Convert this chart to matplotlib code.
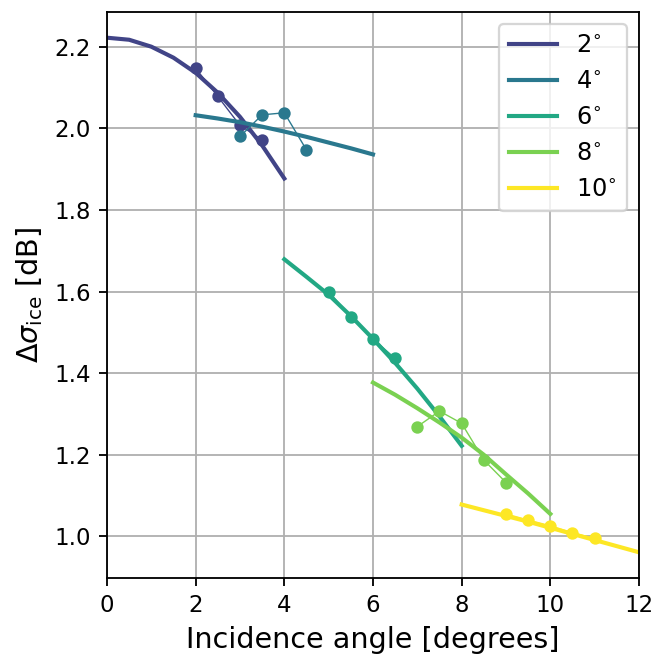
import numpy as np
import matplotlib
matplotlib.use("Agg")
import matplotlib.pyplot as plt

# incidence angle groups
labels = ["2", "4", "6", "8", "10"]

# measured points (incidence angle, delta sigma)
pts_x = [
    [2.0, 2.5, 3.0, 3.5],
    [3.0, 3.5, 4.0, 4.5],
    [5.0, 5.5, 6.0, 6.5],
    [7.0, 7.5, 8.0, 8.5, 9.0],
    [9.0, 9.5, 10.0, 10.5, 11.0],
]
pts_y = [
    [2.147, 2.078, 2.007, 1.972],
    [1.980, 2.033, 2.038, 1.947],
    [1.600, 1.538, 1.484, 1.436],
    [1.269, 1.307, 1.277, 1.187, 1.132],
    [1.055, 1.040, 1.026, 1.009, 0.995],
]

# fitted curves
fit_x = [
    [0.0, 0.5, 1.0, 1.5, 2.0, 2.5, 3.0, 3.5, 4.0],
    [2.0, 2.5, 3.0, 3.5, 4.0, 4.5, 5.0, 5.5, 6.0],
    [4.0, 4.5, 5.0, 5.5, 6.0, 6.5, 7.0, 7.5, 8.0],
    [6.0, 6.5, 7.0, 7.5, 8.0, 8.5, 9.0, 9.5, 10.0],
    [8.0, 8.5, 9.0, 9.5, 10.0, 10.5, 11.0, 11.5, 12.0],
]
fit_y = [
    [2.222, 2.217, 2.200, 2.173, 2.136, 2.087, 2.028, 1.958, 1.877],
    [2.032, 2.024, 2.015, 2.004, 1.992, 1.979, 1.965, 1.951, 1.936],
    [1.679, 1.636, 1.592, 1.540, 1.484, 1.425, 1.362, 1.294, 1.222],
    [1.377, 1.347, 1.314, 1.279, 1.242, 1.200, 1.152, 1.105, 1.055],
    [1.078, 1.064, 1.050, 1.036, 1.021, 1.006, 0.991, 0.976, 0.961],
]

colors = plt.cm.viridis(np.linspace(0.2, 1.0, 5))

fig = plt.figure(figsize=(655 / 165, 659 / 165), dpi=165)
ax = fig.add_axes([107 / 655, 1 - 578 / 659, 532 / 655, 566 / 659])

for i in range(5):
    ax.plot(pts_x[i], pts_y[i], "o-", color=colors[i], lw=0.6, ms=4.4)
    ax.plot(fit_x[i], fit_y[i], "-", color=colors[i], lw=1.8,
            label=labels[i] + r"$^{\circ}$")

ax.set_xlim(0, 12)
ax.set_ylim(0.898, 2.285)
ax.set_xticks(range(0, 13, 2))
ax.set_yticks([1.0, 1.2, 1.4, 1.6, 1.8, 2.0, 2.2])
ax.tick_params(labelsize=10)
ax.set_xlabel("Incidence angle [degrees]", fontsize=12.5)
ax.set_ylabel(r"$\Delta\sigma_{\mathrm{ice}}$ [dB]", fontsize=12.5)
ax.grid(True, color="#b0b0b0")
ax.legend(loc="upper right", fontsize=10.5)

fig.savefig("out.png", dpi=165)
